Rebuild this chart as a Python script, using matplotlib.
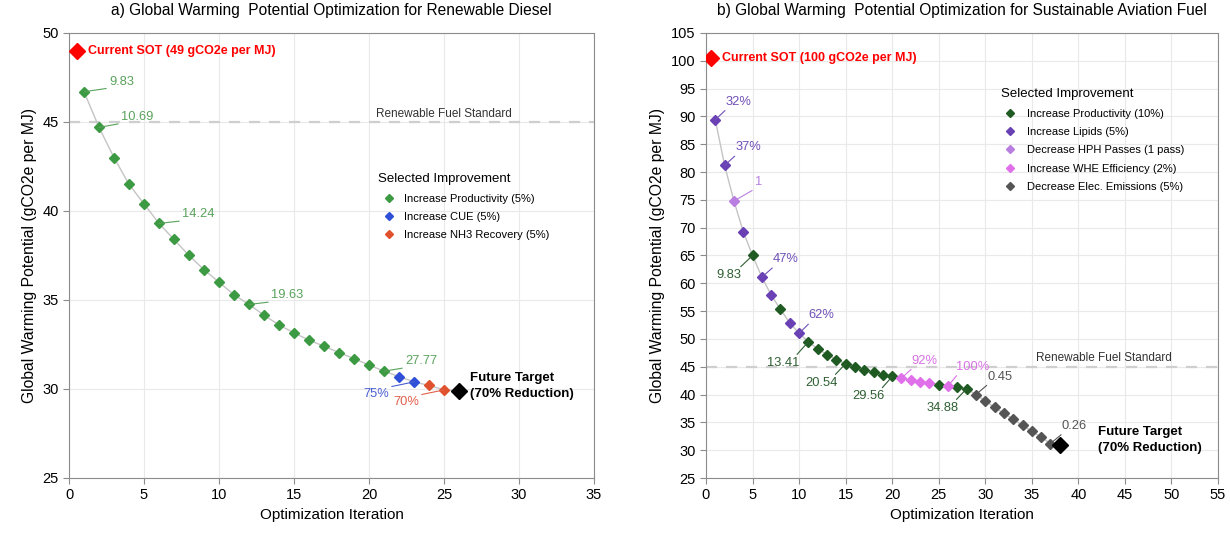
import matplotlib
matplotlib.use("Agg")
import matplotlib.pyplot as plt
from matplotlib.lines import Line2D

plt.rcParams['font.family'] = ['Liberation Sans', 'DejaVu Sans']

# ---- a) renewable diesel ----
rd_iteration = list(range(1, 26))
rd_gwp = [46.7, 44.7, 43.0, 41.5, 40.4, 39.3, 38.4, 37.5, 36.7, 36.0,
          35.3, 34.75, 34.15, 33.6, 33.15, 32.75, 32.4, 32.05, 31.7, 31.35,
          31.0, 30.7, 30.4, 30.2, 29.95]
# index into rd_names for each iteration
rd_step = [0] * 21 + [1] * 2 + [2] * 2
rd_names = ["Increase Productivity (5%)", "Increase CUE (5%)", "Increase NH3 Recovery (5%)"]
rd_sot = 49
rd_target_iter = 26
rd_target = 29.9
rd_label_iter = [1, 2, 6, 12, 21, 23, 25]
rd_label_text = ["9.83", "10.69", "14.24", "19.63", "27.77", "75%", "70%"]

# ---- b) sustainable aviation fuel ----
saf_iteration = list(range(1, 38))
saf_gwp = [89.4, 81.2, 74.8, 69.3, 65.0, 61.1, 57.9, 55.3, 52.9, 51.0,
           49.5, 48.2, 47.2, 46.3, 45.55, 44.95, 44.4, 44.0, 43.6, 43.25,
           42.95, 42.6, 42.3, 42.1, 41.8, 41.55, 41.3, 41.05, 40.0, 38.85,
           37.7, 36.6, 35.6, 34.45, 33.4, 32.35, 31.2]
saf_step = [1, 1, 2, 1, 0, 1, 1, 0, 1, 1,
            0, 0, 0, 0, 0, 0, 0, 0, 0, 0,
            3, 3, 3, 3, 0, 3, 0, 0, 4, 4,
            4, 4, 4, 4, 4, 4, 4]
saf_names = ["Increase Productivity (10%)", "Increase Lipids (5%)",
             "Decrease HPH Passes (1 pass)", "Increase WHE Efficiency (2%)",
             "Decrease Elec. Emissions (5%)"]
saf_sot = 100.5
saf_target_iter = 38
saf_target = 31.0
saf_label_iter = [1, 2, 3, 5, 6, 10, 11, 15, 20, 21, 26, 28, 29, 37]
saf_label_text = ["32%", "37%", "1", "9.83", "47%", "62%", "13.41", "20.54",
                  "29.56", "92%", "100%", "34.88", "0.45", "0.26"]

rfs_level = 45
sot_x = 0.5

# styling
rd_colors = ["#3c9a42", "#2f4fd8", "#e0522d"]
rd_text_colors = ["#5aa25c", "#4a5fd0", "#e0604a"]
saf_colors = ["#1f5a22", "#6a40b5", "#b87ee0", "#e070ea", "#555555"]
saf_text_colors = ["#2f5f32", "#7050b8", "#b880e0", "#d870e6", "#555555"]

# label offsets in pixels (dx, dy) from the point
rd_offsets = [(25, 10), (22, 10.5), (23, 9), (22, 9), (21, 10), (-25, -12), (-25, -12)]
saf_offsets = [(10, 18), (10.5, 18), (21, 18.5), (-11, -20), (11, 18), (9.5, 18),
               (-9, -21.5), (-8, -19.5), (-7.5, -20), (10, 17.5), (7.5, 19),
               (-8, -19.5), (11.5, 18), (11.5, 17.5)]

PX = 0.72  # points per pixel at dpi 100


def draw_panel(ax, iters, gwp, step, names, colors, text_colors, label_iter, label_text,
               offsets, sot, target_x, target_y, sot_text, target_off):
    ax.plot(iters + [target_x], gwp + [target_y], color="#c4c4c4", lw=1.0, zorder=2)
    for k, name in enumerate(names):
        xs = [x for x, s in zip(iters, step) if s == k]
        ys = [y for y, s in zip(gwp, step) if s == k]
        ax.plot(xs, ys, ls="none", marker="D", ms=4.6, color=colors[k], zorder=3)
    ax.plot([target_x], [target_y], ls="none", marker="D", ms=8, color="black", zorder=4)
    ax.plot([sot_x], [sot], ls="none", marker="D", ms=8, color="#ff0000", zorder=4)

    for it, txt, (dx, dy) in zip(label_iter, label_text, offsets):
        x = iters[it - 1]
        y = gwp[it - 1]
        c = text_colors[step[it - 1]]
        if dx > 0:
            ha, rel = "left", (0.1, 0)
        else:
            ha, rel = "right", (0.85, 1)
        ax.annotate(txt, xy=(x, y), xytext=(dx * PX, dy * PX), textcoords="offset points",
                    ha=ha, va="center", fontsize=9.3, color=c,
                    arrowprops=dict(arrowstyle="-", color=c, lw=0.8, shrinkA=0, shrinkB=0,
                                    relpos=rel))

    ax.annotate(sot_text, xy=(sot_x, sot), xytext=(8, 0), textcoords="offset points",
                ha="left", va="center", fontsize=9, fontweight="bold", color="#ff0000")
    ax.annotate("Future Target\n(70% Reduction)", xy=(target_x, target_y),
                xytext=(target_off[0] * PX, target_off[1] * PX), textcoords="offset points",
                ha="left", va="center", fontsize=9.5, fontweight="bold", color="black",
                linespacing=1.45)

    ax.axhline(rfs_level, color="#cfcfcf", lw=1.6, ls=(0, (5, 4)), zorder=1)

    ax.grid(color="#e9e9e9", lw=0.8)
    ax.set_axisbelow(True)
    for sp in ax.spines.values():
        sp.set_color("#8c8c8c")
    ax.tick_params(colors="#8c8c8c", labelcolor="black", labelsize=10.5, length=4)
    ax.set_xlabel("Optimization Iteration", fontsize=11)
    ax.set_ylabel("Global Warming Potential (gCO2e per MJ)", fontsize=11.3)

    handles = [Line2D([], [], ls="none", marker="D", ms=4, color=c) for c in colors]
    return handles


fig = plt.figure(figsize=(12.3, 5.34), dpi=100)
ax1 = fig.add_axes([69 / 1230, 56 / 534, 525 / 1230, 445 / 534])
ax2 = fig.add_axes([706 / 1230, 56 / 534, 512 / 1230, 445 / 534])

h1 = draw_panel(ax1, rd_iteration, rd_gwp, rd_step, rd_names, rd_colors, rd_text_colors,
                rd_label_iter, rd_label_text, rd_offsets, rd_sot, rd_target_iter, rd_target,
                "Current SOT (49 gCO2e per MJ)", (11, 5))
ax1.set_xlim(0, 35)
ax1.set_ylim(25, 50)
ax1.set_xticks(range(0, 36, 5))
ax1.set_yticks(range(25, 51, 5))
ax1.set_title("a) Global Warming  Potential Optimization for Renewable Diesel",
              fontsize=11.2, pad=13)
ax1.text(25, rfs_level + 0.45, "Renewable Fuel Standard", ha="center", va="center", fontsize=8.5,
         color="#333333")
leg1 = ax1.legend(h1, rd_names, title="Selected Improvement", loc="upper left",
                  bbox_to_anchor=(0.589, 0.685), frameon=False, fontsize=8,
                  title_fontsize=9.5, handlelength=2.0, handletextpad=0.3,
                  labelspacing=0.75, borderpad=0, borderaxespad=0, alignment="left")

h2 = draw_panel(ax2, saf_iteration, saf_gwp, saf_step, saf_names, saf_colors, saf_text_colors,
                saf_label_iter, saf_label_text, saf_offsets, saf_sot, saf_target_iter,
                saf_target, "Current SOT (100 gCO2e per MJ)", (38, 5))
ax2.set_xlim(0, 55)
ax2.set_ylim(25, 105)
ax2.set_xticks(range(0, 56, 5))
ax2.set_yticks(range(25, 106, 5))
ax2.set_title("b) Global Warming  Potential Optimization for Sustainable Aviation Fuel",
              fontsize=11.2, pad=13)
ax2.text(42.7, rfs_level + 1.5, "Renewable Fuel Standard", ha="center", va="center",
         fontsize=8.5, color="#333333")
leg2 = ax2.legend(h2, saf_names, title="Selected Improvement", loc="upper left",
                  bbox_to_anchor=(0.576, 0.876), frameon=False, fontsize=8,
                  title_fontsize=9.5, handlelength=1.7, handletextpad=0.65,
                  labelspacing=0.75, borderpad=0, borderaxespad=0, alignment="left")

fig.savefig("out.png", dpi=100)
